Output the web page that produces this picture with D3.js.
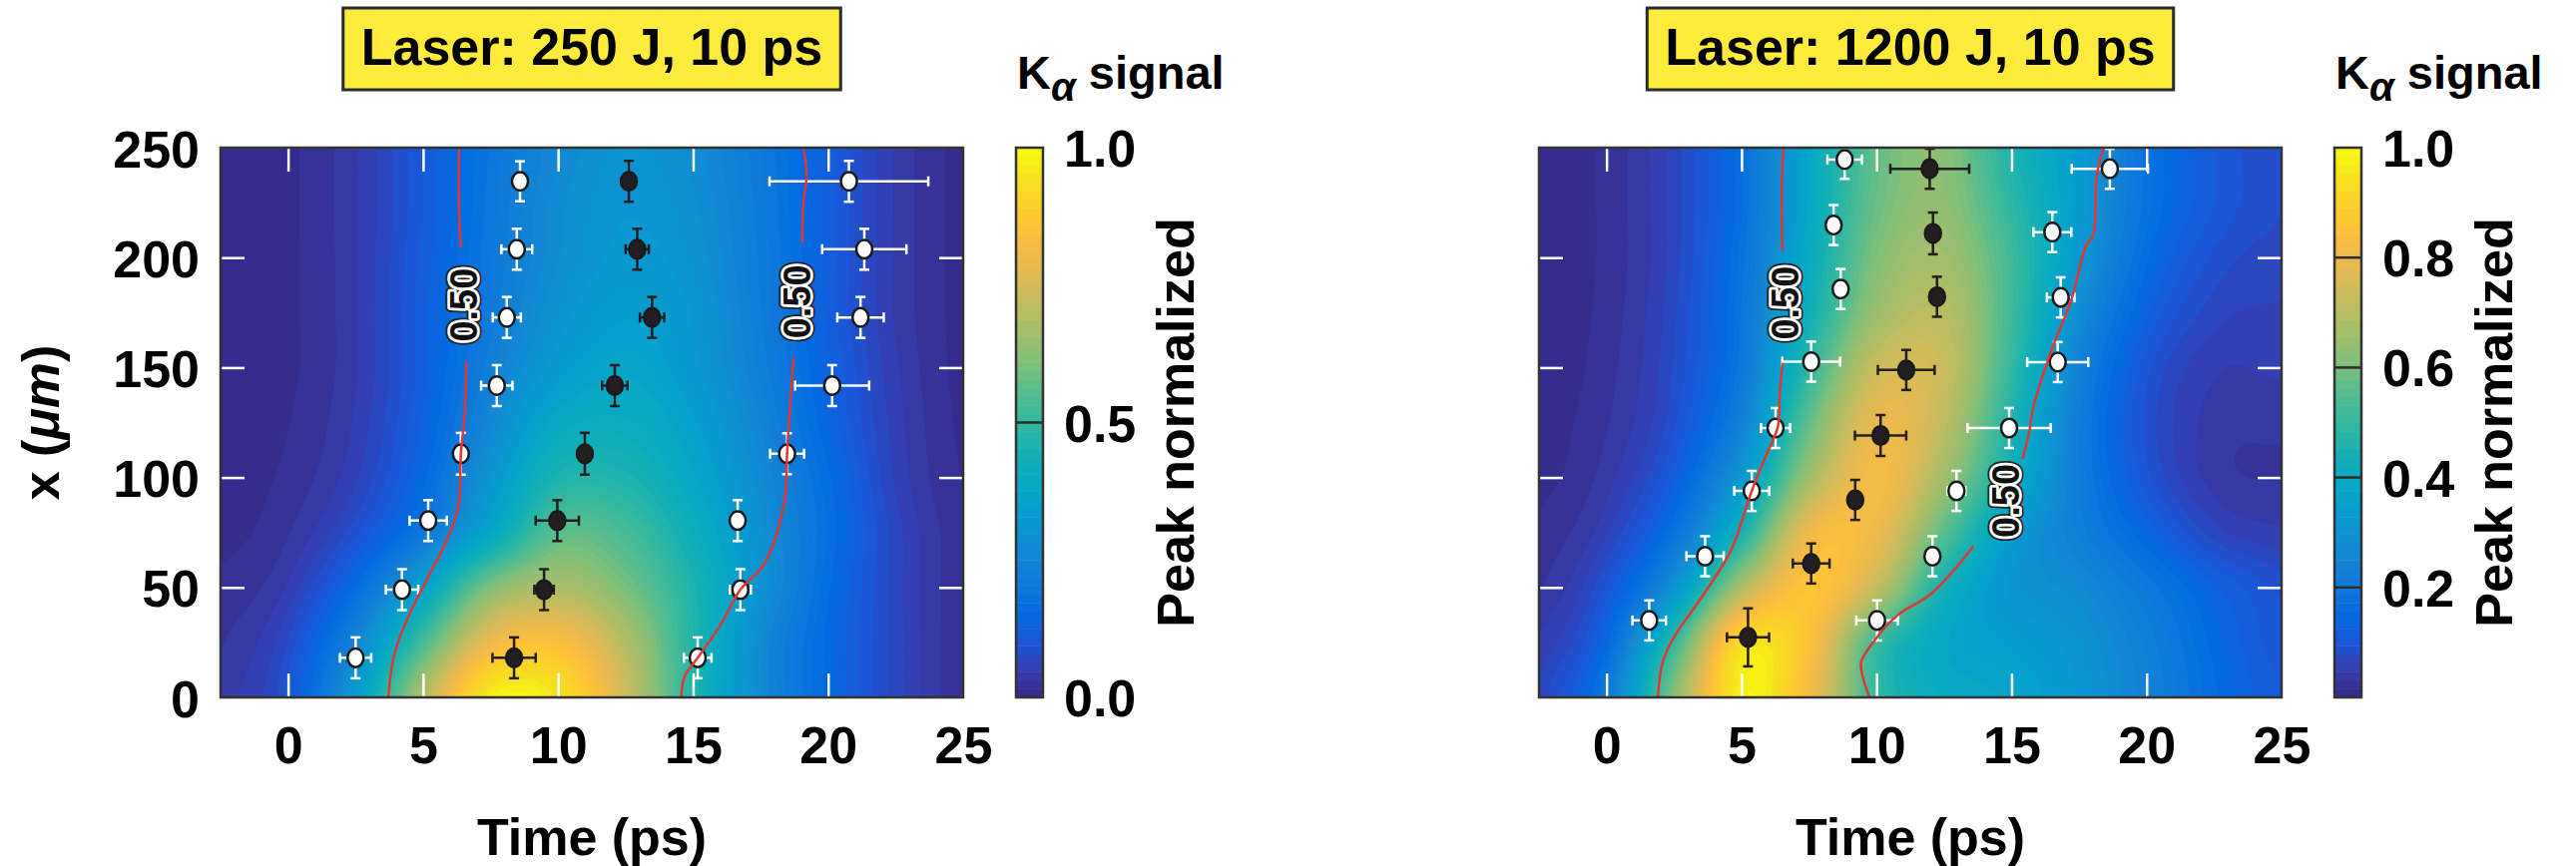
<!DOCTYPE html>
<html>
<head>
<meta charset="utf-8">
<script src="https://cdn.jsdelivr.net/npm/d3@7"></script>
<style>
  body { margin: 0; background: #fff; }
  svg { display: block; }
</style>
</head>
<body>
<script>
// ---- data ----
const panelTitles = ['Laser: 250 J, 10 ps', 'Laser: 1200 J, 10 ps'];
const timeTicks = [0, 5, 10, 15, 20, 25];
const depthTicks = [0, 50, 100, 150, 200, 250];
const cbTicks250 = [0, 0.5, 1.0];
const cbTicks1200 = [0.2, 0.4, 0.6, 0.8, 1.0];

// heat map samples: one row per depth (um), one column per time (ps)
const timeGrid = [-2.5, 0, 2.5, 5, 7.5, 10, 12.5, 15, 17.5, 20, 22.5, 25];
const depthGrid = [0, 25, 50, 75, 100, 125, 150, 175, 200, 225, 250];

const signal250 = [
  [0.04, 0.10, 0.33, 0.69, 0.97, 0.95, 0.74, 0.47, 0.27, 0.15, 0.07, 0.02],
  [0.03, 0.08, 0.25, 0.53, 0.80, 0.84, 0.69, 0.47, 0.27, 0.15, 0.07, 0.02],
  [0.02, 0.05, 0.16, 0.36, 0.61, 0.68, 0.60, 0.46, 0.30, 0.16, 0.07, 0.02],
  [0.01, 0.03, 0.09, 0.20, 0.38, 0.56, 0.53, 0.42, 0.29, 0.17, 0.07, 0.02],
  [0.008, 0.02, 0.06, 0.15, 0.31, 0.46, 0.46, 0.38, 0.27, 0.16, 0.06, 0.015],
  [0.006, 0.015, 0.05, 0.13, 0.26, 0.39, 0.41, 0.35, 0.25, 0.14, 0.055, 0.012],
  [0.005, 0.012, 0.045, 0.12, 0.23, 0.33, 0.37, 0.32, 0.23, 0.13, 0.05, 0.01],
  [0.005, 0.012, 0.045, 0.12, 0.21, 0.30, 0.34, 0.31, 0.22, 0.12, 0.045, 0.01],
  [0.005, 0.012, 0.045, 0.115, 0.20, 0.28, 0.32, 0.295, 0.215, 0.12, 0.045, 0.01],
  [0.005, 0.012, 0.045, 0.11, 0.195, 0.275, 0.31, 0.285, 0.21, 0.12, 0.045, 0.01],
  [0.005, 0.012, 0.045, 0.11, 0.19, 0.265, 0.30, 0.275, 0.205, 0.12, 0.045, 0.01]
];

const signal1200 = [
  [0.07, 0.21, 0.62, 0.98, 0.82, 0.50, 0.40, 0.37, 0.31, 0.24, 0.16, 0.11],
  [0.05, 0.15, 0.50, 0.93, 0.85, 0.52, 0.38, 0.34, 0.30, 0.23, 0.15, 0.10],
  [0.03, 0.10, 0.30, 0.68, 0.86, 0.72, 0.44, 0.31, 0.27, 0.20, 0.13, 0.09],
  [0.02, 0.06, 0.18, 0.45, 0.80, 0.80, 0.56, 0.34, 0.23, 0.14, 0.07, 0.05],
  [0.01, 0.04, 0.12, 0.32, 0.66, 0.82, 0.66, 0.42, 0.22, 0.10, 0.04, 0.03],
  [0.008, 0.03, 0.09, 0.24, 0.57, 0.79, 0.71, 0.46, 0.22, 0.09, 0.04, 0.035],
  [0.006, 0.025, 0.08, 0.20, 0.49, 0.73, 0.73, 0.50, 0.24, 0.10, 0.05, 0.05],
  [0.005, 0.022, 0.075, 0.19, 0.43, 0.65, 0.70, 0.52, 0.28, 0.13, 0.07, 0.06],
  [0.005, 0.02, 0.07, 0.18, 0.40, 0.61, 0.66, 0.52, 0.32, 0.16, 0.09, 0.07],
  [0.005, 0.02, 0.07, 0.17, 0.38, 0.58, 0.63, 0.49, 0.33, 0.18, 0.11, 0.08],
  [0.005, 0.02, 0.07, 0.17, 0.38, 0.57, 0.62, 0.46, 0.33, 0.18, 0.11, 0.08]
];

// points: [time ps, depth um, time error, depth error]
const rise250 = [
  [2.50, 18.0, 0.58, 9.3], [4.22, 49.0, 0.60, 9.3], [5.19, 80.4, 0.69, 9.3], [6.40, 110.8, 0.20, 9.5],
  [7.73, 141.8, 0.58, 9.3], [8.10, 172.8, 0.52, 9.3], [8.47, 203.8, 0.57, 9.3], [8.59, 234.7, 0, 9.1]
];
const peak250 = [
  [8.37, 18.0, 0.80, 9.3], [9.48, 49.0, 0.36, 9.3], [9.97, 80.4, 0.80, 9.3], [10.99, 110.8, 0, 9.5],
  [12.10, 141.8, 0.47, 9.3], [13.48, 172.8, 0.45, 9.3], [12.93, 203.8, 0.43, 9.3], [12.62, 234.7, 0, 9.3]
];
const fall250 = [
  [15.17, 18.0, 0.51, 9.3], [16.75, 49.0, 0.39, 9.3], [16.65, 80.4, 0, 9.3], [18.48, 110.8, 0.63, 9.3],
  [20.15, 141.8, 1.37, 9.3], [21.20, 172.8, 0.86, 9.3], [21.34, 203.8, 1.56, 9.3], [20.77, 234.7, 2.94, 9.3]
];
const rise1200 = [
  [1.58, 35.0, 0.62, 9.1], [3.65, 64.2, 0.69, 9.1], [5.38, 93.9, 0.65, 9.1], [6.26, 122.5, 0.54, 9.1],
  [7.58, 152.7, 1.07, 9.1], [8.67, 185.7, 0, 9.1], [8.41, 214.8, 0, 9.1], [8.82, 244.6, 0.64, 8.8]
];
const peak1200 = [
  [5.24, 27.3, 0.78, 13.2], [7.58, 60.9, 0.68, 9.1], [9.21, 89.8, 0, 9.1], [10.15, 119.1, 0.95, 9.3],
  [11.10, 148.9, 1.05, 9.1], [12.24, 182.2, 0, 9.1], [12.09, 211.0, 0, 9.5], [11.97, 240.4, 1.46, 9.1]
];
const fall1200 = [
  [10.02, 35.0, 0.77, 9.1], [12.07, 64.2, 0, 9.1], [12.96, 93.9, 0.33, 9.1], [14.91, 122.5, 1.54, 9.1],
  [16.71, 152.5, 1.13, 9.1], [16.82, 181.9, 0.51, 9.1], [16.51, 211.6, 0.70, 9.1], [18.64, 240.4, 1.41, 9.1]
];

// red 0.50 lines, split where the labels sit: [time, depth]
const halfMax250 = [
  [[6.33, 250], [6.33, 221], [6.40, 204.6]],
  [[6.60, 152.7], [6.54, 128.2], [6.40, 110.8], [6.31, 87], [5.90, 72], [5.16, 54], [4.42, 35.8], [3.93, 19.3], [3.71, 0]],
  [[19.09, 250], [19.2, 237], [19.09, 225.6], [19.04, 206.9]],
  [[18.72, 154.6], [18.53, 121.6], [18.48, 110.8], [18.41, 91.9], [18.04, 72.1], [17.54, 59], [16.75, 49], [15.99, 32.5], [15.17, 18], [14.68, 9.4], [14.56, 0]]
];
const halfMax1200 = [
  [[6.56, 250], [6.50, 237], [6.51, 203]],
  [[6.53, 152.2], [6.41, 138.1], [6.35, 123.3], [5.85, 108.4], [5.38, 93.9], [4.62, 67.2], [3.63, 47.4], [2.51, 27.6], [2.08, 16], [1.90, 0]],
  [[18.42, 250], [18.29, 245.5], [18.14, 235.5], [18.02, 209.9], [17.77, 205.8], [17.22, 181], [16.48, 157.9], [15.8, 131.6], [15.67, 121.6], [15.4, 108.4]],
  [[13.59, 68.8], [12.95, 59], [11.96, 46.5], [10.79, 37.5], [9.93, 26], [9.43, 16], [9.49, 9.4], [9.74, 0]]
];
const halfLevel = 0.5;
const halfLabels250 = [[6.49, 178.5], [18.83, 180]];
const halfLabels1200 = [[6.62, 179.4], [14.77, 89.4]];

// ---- layout ----
const FONT = '"Liberation Sans", Arial, Helvetica, sans-serif';
const plotTop = 148, plotBottom = 699, plotW = 744, cbW = 27;
const step = 1 / 64;
const levels = d3.range(0, 1 - 1e-9, step);

// parula colour map
const parulaStops = ['#352a87', '#353eaf', '#1b55d7', '#036ae1', '#0f77db', '#1484d4', '#0d93d2',
  '#06a0cd', '#07aac1', '#18b1b2', '#33b8a1', '#50bc90', '#7abf7c', '#9bbe6f', '#b8bd63',
  '#d3bb58', '#ecb94c', '#fec03a', '#fad12b', '#f5e31e', '#f9fb0e'];
const parula = d3.scaleLinear()
  .domain(parulaStops.map((c, i) => i / (parulaStops.length - 1)))
  .range(parulaStops).clamp(true);

const svg = d3.select('body').append('svg')
  .attr('width', 2581).attr('height', 868)
  .attr('font-family', FONT).attr('font-weight', 'bold');

function cubic(p0, p1, p2, p3, s) {
  return p1 + 0.5 * s * (p2 - p0 + s * (2 * p0 - 5 * p1 + 4 * p2 - p3 + s * (3 * (p1 - p2) + p3 - p0)));
}

function sampleField(rows, t, d) {
  const nI = timeGrid.length, nJ = depthGrid.length;
  const fi = (t - timeGrid[0]) / (timeGrid[1] - timeGrid[0]);
  const fj = (d - depthGrid[0]) / (depthGrid[1] - depthGrid[0]);
  const i = Math.max(0, Math.min(Math.floor(fi), nI - 2));
  const j = Math.max(0, Math.min(Math.floor(fj), nJ - 2));
  const s = fi - i, u = fj - j;
  const at = (jj, ii) => rows[Math.max(0, Math.min(nJ - 1, jj))][Math.max(0, Math.min(nI - 1, ii))];
  const col = k => cubic(at(j - 1, i + k), at(j, i + k), at(j + 1, i + k), at(j + 2, i + k), u);
  return Math.max(0, Math.min(1, cubic(col(-1), col(0), col(1), col(2), s)));
}

function drawPanel(p) {
  const x = d3.scaleLinear().domain([-2.5, 25]).range([p.left, p.left + plotW]);
  const y = d3.scaleLinear().domain([0, 250]).range([plotBottom, plotTop]);
  const right = p.left + plotW;

  svg.append('clipPath').attr('id', 'clip' + p.id)
    .append('rect').attr('x', p.left).attr('y', plotTop)
    .attr('width', plotW).attr('height', plotBottom - plotTop);
  const plot = svg.append('g').attr('clip-path', `url(#clip${p.id})`);

  // filled contours
  const nx = 275, ny = 125;
  const t0 = x.domain()[0], tSpan = x.domain()[1] - t0;
  const values = new Float64Array(nx * ny);
  for (let j = 0; j < ny; j++) {
    for (let i = 0; i < nx; i++) {
      values[j * nx + i] = sampleField(p.field, t0 + (i + 0.5) * tSpan / nx, (j + 0.5) * 250 / ny);
    }
  }
  const bands = d3.contours().size([nx, ny]).thresholds(levels)(values);
  const proj = d3.geoTransform({
    point(px, py) { this.stream.point(x(t0 + px * tSpan / nx), y(py * 250 / ny)); }
  });
  const path = d3.geoPath(proj);
  plot.append('g').selectAll('path').data(bands).join('path')
    .attr('d', path)
    .attr('fill-rule', 'evenodd')
    .attr('fill', d => parula(d.value + step / 2));

  // white ticks inside the frame
  const tickAxis = (axis, tx, ty) => {
    const a = plot.append('g').attr('transform', `translate(${tx},${ty})`).call(axis);
    a.select('.domain').remove();
    a.selectAll('text').remove();
    a.selectAll('line').attr('stroke', '#fff').attr('stroke-width', 2.5);
  };
  const inner = timeTicks.filter(v => v > -2.5 && v < 25);
  const innerY = depthTicks.filter(v => v > 0 && v < 250);
  tickAxis(d3.axisBottom(x).tickValues(inner).tickSize(-24), 0, plotBottom);
  tickAxis(d3.axisTop(x).tickValues(inner).tickSize(-24), 0, plotTop);
  tickAxis(d3.axisLeft(y).tickValues(innerY).tickSize(-24), p.left, 0);
  tickAxis(d3.axisRight(y).tickValues(innerY).tickSize(-24), right, 0);

  // error bars and markers
  const drawPoints = (data, open) => {
    const c = open ? '#ffffff' : '#231f20';
    const g = plot.append('g').attr('stroke', c).attr('stroke-width', 2.5);
    const pts = g.selectAll('g').data(data).join('g');
    pts.append('line')
      .attr('x1', d => x(d[0])).attr('x2', d => x(d[0]))
      .attr('y1', d => y(d[1] - d[3])).attr('y2', d => y(d[1] + d[3]));
    pts.append('line')
      .attr('x1', d => x(d[0]) - 5).attr('x2', d => x(d[0]) + 5)
      .attr('y1', d => y(d[1] - d[3])).attr('y2', d => y(d[1] - d[3]));
    pts.append('line')
      .attr('x1', d => x(d[0]) - 5).attr('x2', d => x(d[0]) + 5)
      .attr('y1', d => y(d[1] + d[3])).attr('y2', d => y(d[1] + d[3]));
    const hz = pts.filter(d => d[2] > 0);
    hz.append('line')
      .attr('x1', d => x(d[0] - d[2])).attr('x2', d => x(d[0] + d[2]))
      .attr('y1', d => y(d[1])).attr('y2', d => y(d[1]));
    hz.append('line')
      .attr('x1', d => x(d[0] - d[2])).attr('x2', d => x(d[0] - d[2]))
      .attr('y1', d => y(d[1]) - 5).attr('y2', d => y(d[1]) + 5);
    hz.append('line')
      .attr('x1', d => x(d[0] + d[2])).attr('x2', d => x(d[0] + d[2]))
      .attr('y1', d => y(d[1]) - 5).attr('y2', d => y(d[1]) + 5);
    pts.append('ellipse')
      .attr('cx', d => x(d[0])).attr('cy', d => y(d[1]))
      .attr('rx', 8).attr('ry', 9.3)
      .attr('fill', c).attr('stroke', '#1a1a1a').attr('stroke-width', 2.5);
  };
  drawPoints(p.rise, true);
  drawPoints(p.fall, true);
  drawPoints(p.peak, false);

  // red half-maximum lines
  const line = d3.line().x(d => x(d[0])).y(d => y(d[1])).curve(d3.curveCatmullRom);
  plot.append('g').selectAll('path').data(p.half).join('path')
    .attr('d', line).attr('fill', 'none')
    .attr('stroke', '#e03636').attr('stroke-width', 2.5);

  const lab = plot.append('g').selectAll('g').data(p.labels).join('g')
    .attr('transform', d => `translate(${x(d[0])},${y(d[1])}) rotate(-90)`);
  lab.append('text').text(d3.format('.2f')(halfLevel))
    .attr('text-anchor', 'middle').attr('dy', '0.36em').attr('font-size', 38)
    .attr('fill', '#222').attr('stroke', '#222').attr('stroke-width', 9).attr('stroke-linejoin', 'round');
  lab.append('text').text(d3.format('.2f')(halfLevel))
    .attr('text-anchor', 'middle').attr('dy', '0.36em').attr('font-size', 38)
    .attr('fill', '#111').attr('stroke', '#fff').attr('stroke-width', 5.5)
    .attr('stroke-linejoin', 'round').attr('paint-order', 'stroke');

  // frame
  svg.append('rect').attr('x', p.left).attr('y', plotTop)
    .attr('width', plotW).attr('height', plotBottom - plotTop)
    .attr('fill', 'none').attr('stroke', '#333').attr('stroke-width', 2.5);

  // tick labels
  const xl = svg.append('g').attr('transform', `translate(0,${plotBottom})`)
    .call(d3.axisBottom(x).tickValues(timeTicks).tickSize(0));
  xl.select('.domain').remove();
  xl.attr('font-size', 52).attr('font-family', FONT);
  xl.selectAll('text').attr('y', 66).attr('dy', null).attr('fill', '#000');

  if (p.yLabels) {
    const yl = svg.append('g').attr('transform', `translate(${p.left},0)`)
      .call(d3.axisLeft(y).tickValues(depthTicks).tickSize(0));
    yl.select('.domain').remove();
    yl.attr('font-size', 52).attr('font-family', FONT);
    yl.selectAll('text').attr('x', -21).attr('dy', null).attr('y', 19).attr('fill', '#000');

    const yt = svg.append('text')
      .attr('transform', `translate(59,${(plotTop + plotBottom) / 2}) rotate(-90)`)
      .attr('text-anchor', 'middle').attr('font-size', 52);
    yt.append('tspan').text('x (');
    yt.append('tspan').text('μm').attr('font-style', 'italic');
    yt.append('tspan').text(')');
  }

  svg.append('text').attr('x', (p.left + right) / 2).attr('y', 857)
    .attr('text-anchor', 'middle').attr('font-size', 52).text('Time (ps)');

  // title box
  const cx = (p.left + right) / 2;
  const box = svg.append('rect').attr('y', 8).attr('height', 82)
    .attr('fill', '#feeb3c').attr('stroke', '#2b2b2b').attr('stroke-width', 3);
  const tt = svg.append('text').attr('x', cx).attr('y', 65)
    .attr('text-anchor', 'middle').attr('font-size', 52).text(p.title);
  const bb = tt.node().getBBox();
  box.attr('x', bb.x - 18).attr('width', bb.width + 36);

  // colour bar
  const cbLeft = right + 53;
  const cy = d3.scaleLinear().domain([0, 1]).range([plotBottom, plotTop]);
  const cb = svg.append('g');
  cb.selectAll('rect').data(levels).join('rect')
    .attr('x', cbLeft).attr('width', cbW)
    .attr('y', d => cy(Math.min(1, d + step)))
    .attr('height', d => cy(d) - cy(Math.min(1, d + step)) + 0.5)
    .attr('fill', d => parula(d + step / 2));
  cb.selectAll('line').data(p.cbTicks.filter(v => v > 0 && v < 1)).join('line')
    .attr('x1', cbLeft).attr('x2', cbLeft + cbW)
    .attr('y1', d => cy(d)).attr('y2', d => cy(d))
    .attr('stroke', '#2b2b2b').attr('stroke-width', 2.5);
  cb.append('rect').attr('x', cbLeft).attr('y', plotTop)
    .attr('width', cbW).attr('height', plotBottom - plotTop)
    .attr('fill', 'none').attr('stroke', '#333').attr('stroke-width', 2.5);
  cb.selectAll('text').data(p.cbTicks).join('text')
    .attr('x', cbLeft + cbW + 21).attr('y', d => cy(d) + 19)
    .attr('font-size', 52).text(d => d3.format('.1f')(d));

  const kt = svg.append('text').attr('x', cbLeft + 1).attr('y', 89).attr('font-size', 47);
  kt.append('tspan').text('K');
  kt.append('tspan').text('α').attr('font-style', 'italic').attr('font-size', 40).attr('dy', 12);
  kt.append('tspan').text(' signal').attr('dy', -12);

  svg.append('text')
    .attr('transform', `translate(${cbLeft + 178},${(plotTop + plotBottom) / 2}) rotate(-90)`)
    .attr('text-anchor', 'middle').attr('font-size', 52).text('Peak normalized');
}

drawPanel({ id: 'a', left: 221, title: panelTitles[0], field: signal250,
  rise: rise250, peak: peak250, fall: fall250, half: halfMax250, labels: halfLabels250,
  cbTicks: cbTicks250, yLabels: true });
drawPanel({ id: 'b', left: 1542, title: panelTitles[1], field: signal1200,
  rise: rise1200, peak: peak1200, fall: fall1200, half: halfMax1200, labels: halfLabels1200,
  cbTicks: cbTicks1200, yLabels: false });
</script>
</body>
</html>
